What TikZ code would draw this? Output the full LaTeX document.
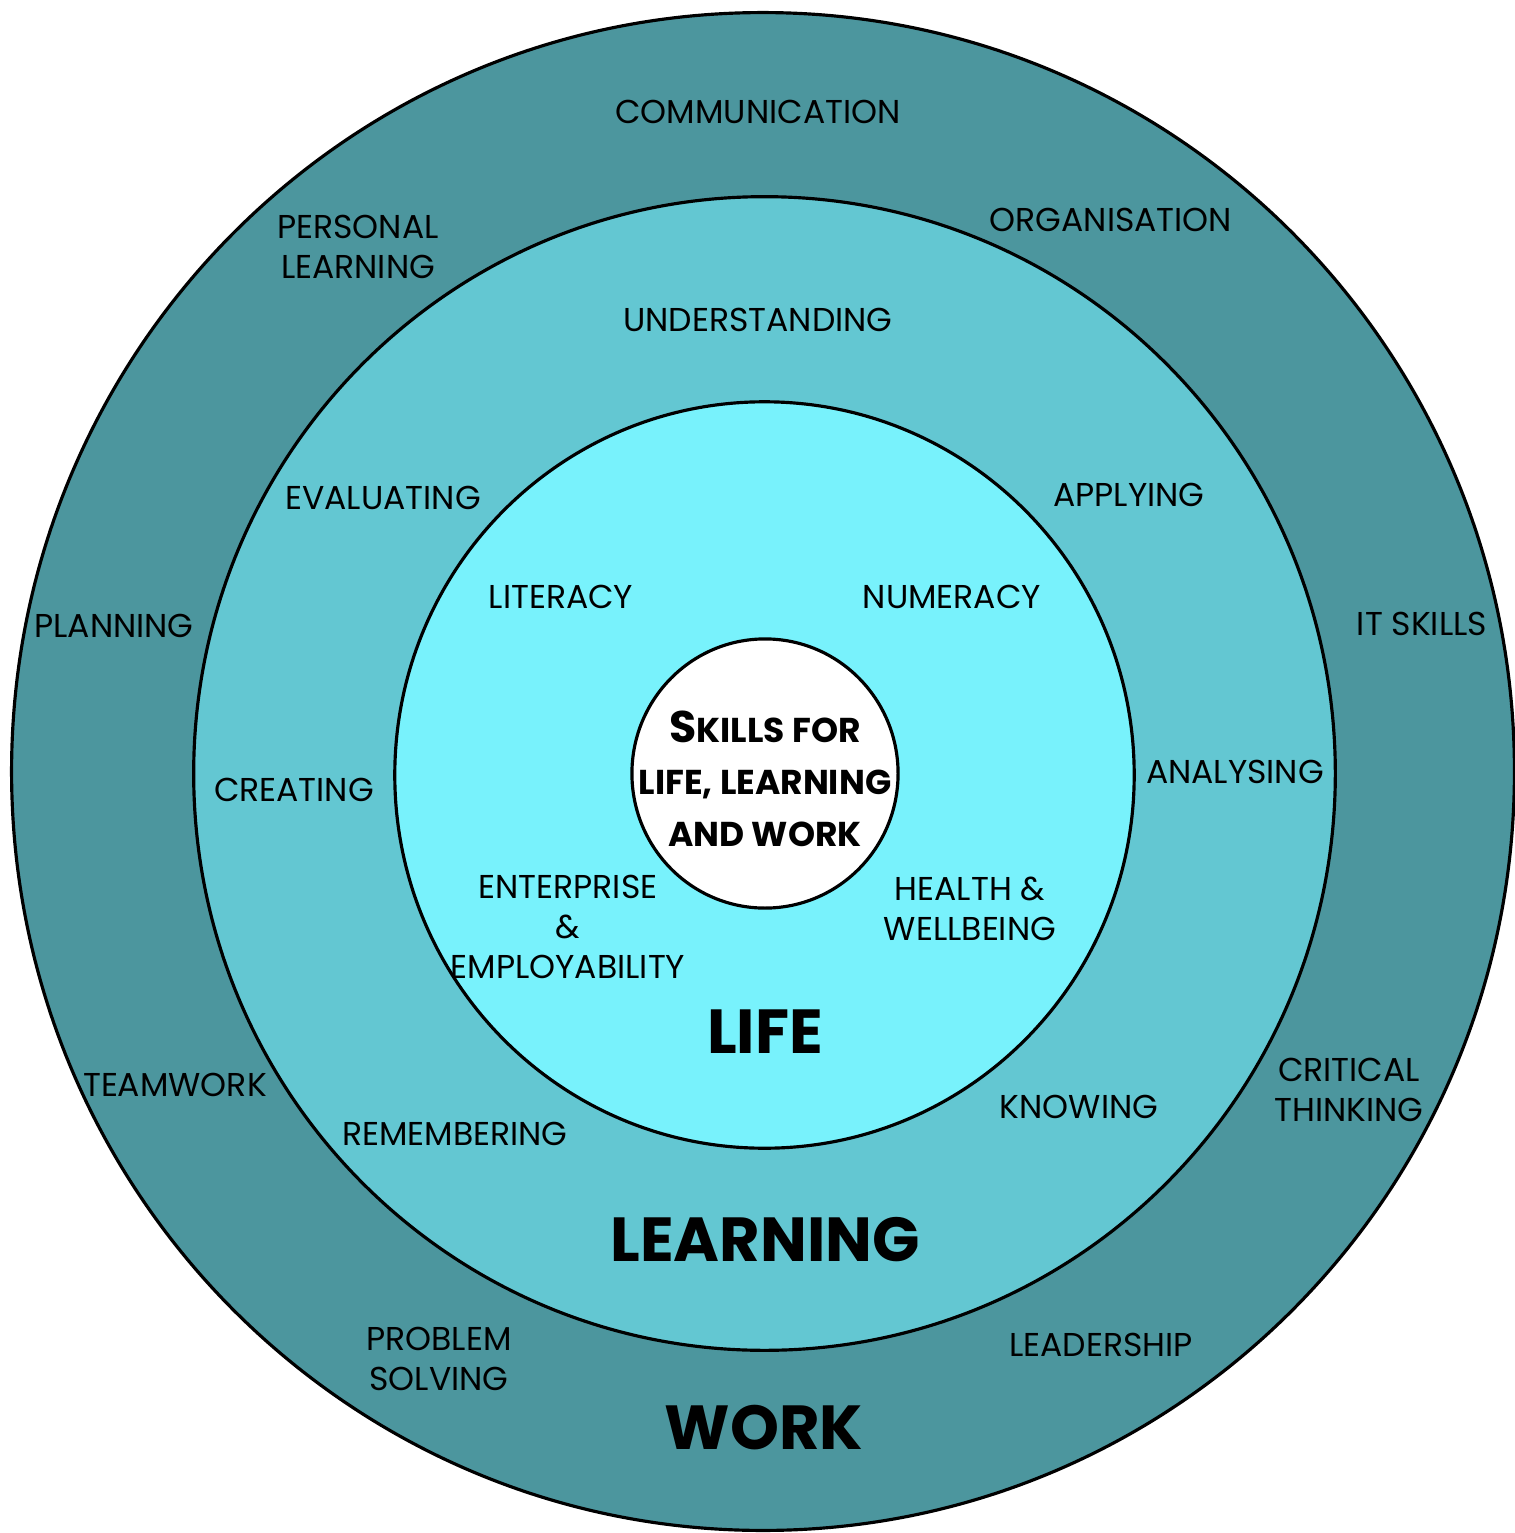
\documentclass[tikz,border=0pt]{standalone}
\usepackage{fontspec}
\setmainfont{Poppins}
\usepackage{tikz}
\usepackage{xcolor}
\definecolor{workteal}{RGB}{76,150,158}
\definecolor{learncyan}{RGB}{99,199,210}
\definecolor{lifecyan}{RGB}{120,242,252}
\newcommand{\skillsinitial}[1]{{\fontsize{12.6}{14.8}\selectfont #1}}

\begin{document}
\begin{tikzpicture}[x=0.01cm, y=-0.01cm,
        ring/.style={draw=black, line width=0.9pt},
        lbl/.style={align=center, inner sep=0pt, font=\fontsize{9.4}{11.4}\selectfont},
        title/.style={inner sep=0pt, font=\fontsize{17.7}{22}\selectfont\bfseries}]
    \useasboundingbox (0,0) rectangle (1515,1533);
    \draw[ring, fill=workteal] (763,771.5) ellipse [x radius=7.51cm, y radius=7.585cm];
    \draw[ring, fill=learncyan] (764.5,773.5) ellipse [x radius=5.705cm, y radius=5.765cm];
    \draw[ring, fill=lifecyan] (764.5,775) ellipse [x radius=3.695cm, y radius=3.73cm];
    \draw[ring, fill=white] (765,773.5) ellipse [x radius=1.33cm, y radius=1.345cm];

    \node[align=center, inner sep=0pt, font=\fontsize{9.8}{14.8}\selectfont\bfseries] (skills) at (765,779)
        {\skillsinitial{S}KILLS FOR\\LIFE, LEARNING\\AND WORK};

    \node[title] (life) at (765,1032) {LIFE};
    \node[title] (learning) at (765,1240) {LEARNING};
    \node[title] (work) at (764,1428) {WORK};

    \node[lbl] (communication) at (758,112) {COMMUNICATION};
    \node[lbl] (personal) at (358,247) {PERSONAL\\LEARNING};
    \node[lbl] (organisation) at (1111,220) {ORGANISATION};
    \node[lbl] (planning) at (114,626) {PLANNING};
    \node[lbl] (itskills) at (1422,624) {IT SKILLS};
    \node[lbl] (teamwork) at (175,1085) {TEAMWORK};
    \node[lbl] (critical) at (1349,1090) {CRITICAL\\THINKING};
    \node[lbl] (problem) at (439,1359) {PROBLEM\\SOLVING};
    \node[lbl] (leadership) at (1101,1345) {LEADERSHIP};

    \node[lbl] (understanding) at (758,320) {UNDERSTANDING};
    \node[lbl] (evaluating) at (383,498) {EVALUATING};
    \node[lbl] (applying) at (1129,495) {APPLYING};
    \node[lbl] (creating) at (294,790) {CREATING};
    \node[lbl] (analysing) at (1235,772) {ANALYSING};
    \node[lbl] (remembering) at (455,1134) {REMEMBERING};
    \node[lbl] (knowing) at (1079,1107) {KNOWING};

    \node[lbl] (literacy) at (561,597) {LITERACY};
    \node[lbl] (numeracy) at (952,597) {NUMERACY};
    \node[lbl] (enterprise) at (568,927) {ENTERPRISE\\\&\\EMPLOYABILITY};
    \node[lbl] (health) at (970,909) {HEALTH \&\\WELLBEING};
\end{tikzpicture}
\end{document}
